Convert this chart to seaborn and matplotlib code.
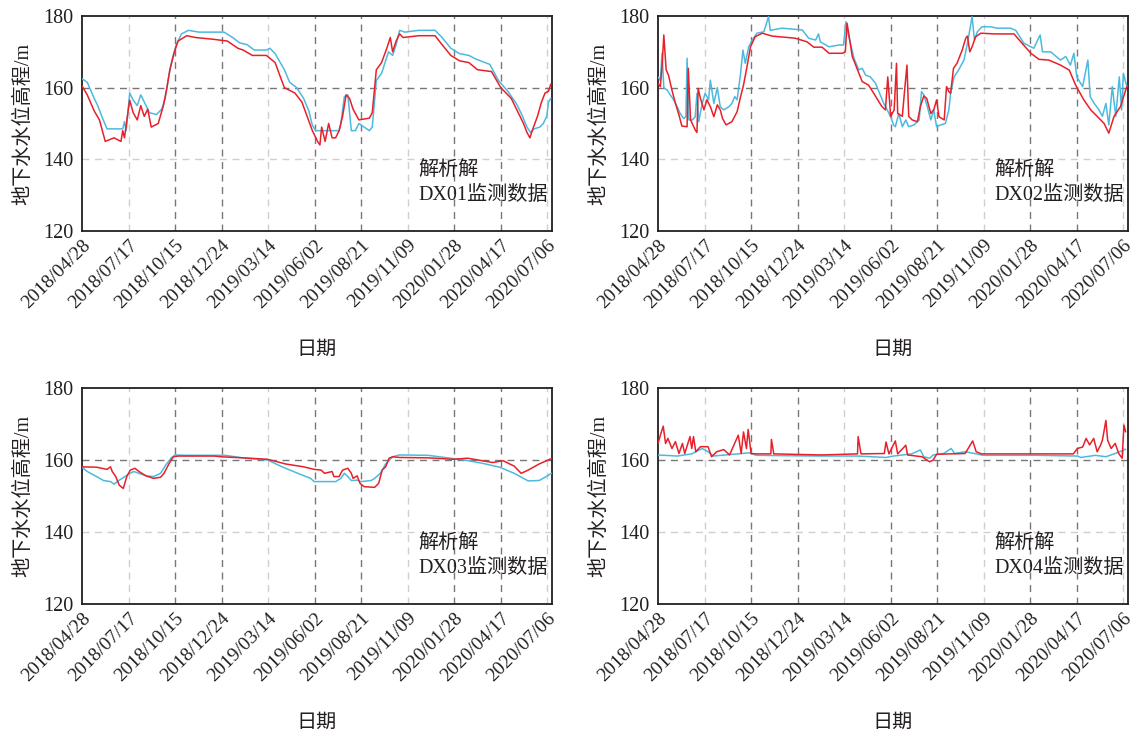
import matplotlib
matplotlib.use("Agg")
import matplotlib.pyplot as plt
import seaborn as sns
import numpy as np

# ---------------- data ----------------
tick_days = [0, 80, 160, 240, 320, 400, 480, 560, 640, 720, 800]
tick_labels = ['2018/04/28', '2018/07/17', '2018/10/15', '2018/12/24', '2019/03/14',
               '2019/06/02', '2019/08/21', '2019/11/09', '2020/01/28', '2020/04/17',
               '2020/07/06']
y_ticks = [120, 140, 160, 180]
well_names = ['DX01', 'DX02', 'DX03', 'DX04']

# DX01
dx01_model_days = [0, 9, 21, 30, 40, 55, 67, 70, 73, 78, 82, 88, 95, 101, 107, 113, 119, 131, 140, 146,
                   151, 159, 165, 180, 195, 226, 250, 268, 277, 293, 317, 332, 341, 348, 366, 378, 387,
                   396, 405, 409, 412, 418, 424, 430, 436, 442, 448, 451, 454, 460, 466, 476, 494, 499,
                   506, 515, 524, 530, 534, 540, 546, 552, 579, 607, 619, 634, 649, 665, 680, 704, 720,
                   738, 750, 759, 765, 770, 774, 783, 790, 796, 802, 806]
dx01_model = [160.5, 158, 153.5, 151, 145, 146, 145, 148, 146, 152, 156.5, 153, 151, 155, 152, 154, 149,
              150, 155, 160, 165, 170, 173, 174.5, 174, 173.5, 173, 171, 170.5, 169, 169, 167, 163, 160,
              158.5, 156, 152, 148, 145, 144, 149, 145, 150, 146, 146, 148, 152, 155, 158, 157, 154,
              151, 151.5, 153, 165, 167, 171, 174, 170, 173, 175, 174, 174.5, 174.5, 172, 169, 167.5,
              167, 165, 164.5, 160, 157, 153, 150, 147.5, 146, 148, 152, 156, 158.5, 159, 161]
dx01_obs_days = [0, 9, 21, 27, 34, 43, 70, 73, 76, 82, 88, 95, 101, 107, 116, 128, 137, 143, 149, 155,
                 162, 171, 183, 201, 244, 259, 271, 284, 296, 317, 323, 332, 348, 357, 369, 381, 390,
                 396, 402, 442, 445, 451, 457, 463, 470, 476, 494, 499, 506, 515, 521, 527, 534, 540,
                 546, 555, 579, 607, 619, 634, 649, 665, 677, 701, 716, 732, 747, 756, 765, 771, 777,
                 787, 793, 799, 802, 806]
dx01_obs = [162.5, 161.5, 157, 155, 152, 148.5, 148.5, 150.5, 148, 158.5, 156.5, 155, 158, 156, 153,
            152.5, 154, 157, 163, 168, 172, 175, 176, 175.5, 175.5, 174, 172.5, 172, 170.5, 170.5, 171,
            169.5, 165, 161.5, 160, 157, 153.5, 149.5, 148, 148, 150, 157.5, 158, 148, 148, 150, 148,
            149, 162, 164, 167, 170, 169, 172, 176, 175.5, 176, 176, 174, 171, 169.5, 169, 168, 166.5,
            162, 159, 155.5, 152.5, 149, 147.5, 148.5, 149, 150, 152, 156, 157]

# DX02
dx02_model_days = [0, 4, 7, 10, 14, 18, 24, 30, 36, 41, 50, 52, 56, 64, 67, 69, 73, 79, 84, 90, 96, 102,
                   107, 111, 117, 127, 136, 142, 147, 153, 159, 167, 179, 196, 236, 256, 268, 282, 294,
                   317, 322, 325, 328, 334, 342, 351, 362, 371, 380, 385, 391, 395, 400, 406, 410, 412,
                   420, 424, 428, 431, 437, 446, 451, 457, 462, 469, 474, 479, 483, 492, 496, 500, 503,
                   508, 514, 523, 529, 532, 536, 540, 546, 555, 578, 612, 621, 641, 655, 672, 692, 707,
                   718, 732, 744, 755, 767, 775, 784, 795, 806]
dx02_model = [161.2, 160.3, 166, 174.7, 165, 163.5, 159.3, 155.6, 152.4, 149.3, 149.1, 165.4, 151, 148.2,
              147.5, 159.8, 157, 153.8, 156.6, 154.7, 151.9, 155.2, 153.8, 151.4, 149.6, 150.5, 153.3,
              157.5, 160.7, 165.9, 171.4, 174.2, 175.2, 174.4, 173.8, 172.8, 171.3, 171.3, 169.6, 169.6,
              170, 178, 175, 168.7, 165.4, 161.7, 160.7, 158.4, 156, 154.7, 153.8, 163, 152, 153.8,
              166.8, 152.8, 152, 159.3, 166.3, 152, 151, 150.5, 154.7, 157.7, 157, 152.8, 153.8, 156.6,
              151.9, 151, 160.3, 158.9, 158.4, 165.4, 166.8, 170.5, 173.8, 174.4, 170, 171.4, 174.2,
              175.2, 175, 175, 173.3, 169.6, 167.9, 167.7, 166.3, 164.9, 160.7, 156.6, 153.8, 152, 150,
              147.3, 152, 154.7, 160.3]
dx02_obs_days = [0, 4, 7, 10, 16, 21, 27, 33, 38, 44, 48, 50, 53, 59, 64, 67, 70, 76, 81, 87, 90, 96,
                 102, 107, 113, 122, 127, 132, 136, 142, 146, 150, 156, 162, 170, 182, 190, 193, 213,
                 248, 259, 271, 276, 279, 294, 311, 319, 323, 328, 337, 345, 351, 357, 365, 374, 382,
                 388, 394, 400, 405, 408, 414, 420, 426, 431, 440, 449, 453, 457, 463, 469, 474, 479,
                 486, 494, 500, 503, 509, 517, 526, 532, 536, 540, 544, 549, 557, 572, 583, 606, 615,
                 629, 646, 657, 661, 675, 692, 701, 709, 715, 720, 730, 739, 743, 750, 758, 764, 770,
                 775, 781, 787, 793, 797, 800, 806]
dx02_obs = [163, 162, 169.6, 160, 159.3, 158, 156.6, 154.7, 152.8, 151.4, 151.9, 168.2, 151, 151, 151.9,
            158.4, 150.5, 155.6, 158.4, 156.6, 162.1, 155.6, 160, 154.7, 153.8, 154.7, 155.6, 157.5,
            156.6, 164, 170.5, 166.8, 171.4, 173.3, 175.2, 175.6, 179.8, 176, 176.6, 176.1, 173.8,
            173.3, 175, 172.8, 171.4, 171.9, 171.9, 178.4, 174.2, 168.2, 165, 165.4, 163.5, 163,
            161.2, 158, 155.6, 153.8, 151.9, 149.6, 149.1, 152.8, 149.1, 151, 149.1, 149.6, 151,
            158.9, 158, 154.7, 151, 153.8, 149.1, 149.6, 150, 153.8, 158.4, 163, 165, 167.7, 172.4,
            176.1, 179.8, 173.3, 175.6, 177, 177, 176.6, 176.6, 176, 172.4, 171, 174.7, 170, 170,
            167.7, 168.7, 166.3, 169.6, 163, 160.3, 167.7, 157.5, 155.6, 153.8, 152, 155.6, 149.6,
            160.3, 152, 163, 153.8, 164, 160.3]

# DX03
dx03_model_days = [0, 25, 43, 49, 52, 58, 64, 71, 77, 83, 91, 98, 110, 123, 135, 141, 150, 157, 166,
                   227, 239, 276, 319, 350, 381, 399, 411, 417, 430, 433, 442, 448, 457, 463, 466, 473,
                   478, 485, 503, 510, 516, 522, 528, 534, 546, 595, 638, 663, 688, 706, 724, 743, 755,
                   767, 786, 807]
dx03_model = [158.1, 158, 157.4, 158.1, 156.8, 155.4, 153, 152.1, 155.4, 157.2, 157.7, 156.8, 155.6,
              154.9, 155.2, 156.3, 159.1, 160.9, 161.1, 161.1, 160.9, 160.6, 160.2, 158.9, 158.1, 157.4,
              157.2, 156.3, 156.8, 155.4, 155.4, 157.2, 157.7, 156.3, 154.9, 155.6, 153.5, 152.6, 152.4,
              153.5, 157.2, 158.1, 160.5, 160.9, 160.7, 160.6, 160.2, 160.5, 159.8, 159.3, 159.8, 158.3,
              156.3, 157.2, 158.9, 160.4]
dx03_obs_days = [0, 9, 25, 37, 49, 55, 64, 74, 80, 89, 98, 110, 123, 135, 144, 153, 160, 178, 246,
                 276, 319, 344, 368, 393, 399, 436, 445, 451, 457, 463, 473, 479, 497, 503, 513, 522,
                 534, 546, 595, 614, 657, 688, 718, 743, 767, 786, 798, 807]
dx03_obs = [158, 156.8, 155.4, 154.3, 154, 153.3, 154.4, 155.4, 156.1, 156.8, 156.3, 155.6, 155.4,
            156.3, 158.6, 160.5, 161.4, 161.3, 161.3, 160.6, 160, 158.1, 156.5, 154.9, 154, 154,
            154.9, 156.3, 155.4, 154.3, 154.4, 154, 154.3, 154.9, 156.3, 158.9, 160.9, 161.4, 161.3,
            160.9, 160, 159.1, 158, 156.3, 154.2, 154.3, 155.4, 156.3]

# DX04
dx04_model_days = [0, 5, 9, 13, 17, 24, 30, 36, 42, 46, 55, 58, 61, 65, 73, 86, 92, 101, 113, 123, 138,
                   143, 147, 152, 155, 160, 169, 194, 195, 199, 281, 343, 344, 349, 389, 392, 397, 408,
                   412, 426, 429, 454, 467, 473, 479, 528, 541, 547, 556, 652, 714, 721, 730, 736, 742,
                   749, 755, 761, 764, 770, 773, 779, 786, 792, 798, 801, 804]
dx04_model = [164.6, 167.4, 169.4, 164.6, 166, 163.2, 165.1, 161.8, 164.6, 161.8, 166.5, 163.2, 166.5,
              162.3, 163.7, 163.7, 160.9, 162.3, 162.9, 161.4, 166.9, 161.8, 167.8, 163.2, 168.5, 161.8,
              161.7, 161.7, 165.7, 161.7, 161.4, 161.7, 166.5, 161.7, 161.8, 165, 161.7, 165.3, 161.7,
              164.1, 161.4, 160.9, 159.5, 160, 161.6, 161.8, 165.3, 162.3, 161.7, 161.7, 161.7, 163.2,
              163.6, 166, 164.2, 166, 162.3, 164.2, 165.5, 171, 165.5, 163.2, 164.6, 161.8, 160.5,
              169.7, 167.8]
dx04_obs_days = [0, 33, 58, 76, 86, 95, 144, 157, 169, 219, 281, 343, 392, 405, 436, 451, 457, 467, 473,
                 491, 504, 510, 528, 544, 559, 652, 721, 727, 752, 770, 789, 804]
dx04_obs = [161.4, 161.1, 161.7, 163.2, 162.3, 161.1, 161.8, 162, 161.3, 161.2, 161.1, 161.1, 160.7,
            161.1, 161.7, 162.8, 160.9, 160.5, 161.4, 161.8, 163.2, 161.8, 162.3, 161.8, 161.3, 161.3,
            161.1, 160.7, 161.3, 160.9, 162, 163]

model_days = [dx01_model_days, dx02_model_days, dx03_model_days, dx04_model_days]
model_vals = [dx01_model, dx02_model, dx03_model, dx04_model]
obs_days = [dx01_obs_days, dx02_obs_days, dx03_obs_days, dx04_obs_days]
obs_vals = [dx01_obs, dx02_obs, dx03_obs, dx04_obs]

# ---------------- style ----------------
sns.set_theme(style="white")
plt.rcParams['font.family'] = ['Liberation Serif', 'Noto Sans CJK SC']
plt.rcParams['axes.unicode_minus'] = False

RED = '#e8202a'
CYAN = '#4cbade'
TXT = '#231f20'
LIGHT = '#cfcfcf'
DARK = '#777777'
FS = 14.5

fig = plt.figure(figsize=(11.35, 7.33), dpi=100)
W, H = 1135, 733
boxes = [(82, 16, 552, 231), (658, 16, 1128, 231),
         (82, 388, 552, 604), (658, 388, 1128, 604)]
vgrid_colors = [None, LIGHT, DARK, DARK, LIGHT, DARK, DARK, LIGHT, DARK, DARK, LIGHT]
hgrid_colors = [None, LIGHT, DARK, None]

for i, (l, t, r, b) in enumerate(boxes):
    ax = fig.add_axes([l / W, 1 - b / H, (r - l) / W, (b - t) / H])
    sns.lineplot(x=model_days[i], y=model_vals[i], ax=ax, color=RED, lw=1.1,
                 label='解析解', zorder=4, sort=False, estimator=None)
    sns.lineplot(x=obs_days[i], y=obs_vals[i], ax=ax, color=CYAN, lw=1.1,
                 label=f'{well_names[i]}监测数据', zorder=3, sort=False, estimator=None)
    ax.set_xlim(0, 808)
    ax.set_ylim(120, 180)
    ax.set_xticks(tick_days)
    ax.set_xticklabels(tick_labels, rotation=45, ha='right', rotation_mode='anchor',
                       fontsize=14, color=TXT)
    ax.set_yticks(y_ticks)
    ax.set_yticklabels([str(v) for v in y_ticks], fontsize=14.5, color=TXT)
    ax.tick_params(axis='x', length=0, pad=4)
    ax.tick_params(axis='y', length=0, pad=6)
    ax.grid(True, linestyle=(0, (5, 4)), linewidth=1.0)
    for gl, c in zip(ax.xaxis.get_gridlines(), vgrid_colors):
        if c is None:
            gl.set_visible(False)
        else:
            gl.set_color(c)
    for gl, c in zip(ax.yaxis.get_gridlines(), hgrid_colors):
        if c is None:
            gl.set_visible(False)
        else:
            gl.set_color(c)
    for s in ax.spines.values():
        s.set_visible(True)
        s.set_color(TXT)
        s.set_linewidth(1.3)
    ax.set_xlabel('日期', fontsize=FS, color=TXT, labelpad=21)
    ax.set_ylabel('地下水水位高程/m', fontsize=FS, color=TXT, labelpad=7)
    leg = ax.legend(loc='lower right', bbox_to_anchor=(1.0, 0.1), frameon=False,
                    handlelength=0, handletextpad=0, borderaxespad=0, borderpad=0.2,
                    labelspacing=0.3, prop={'size': FS})
    for txt in leg.get_texts():
        txt.set_color(TXT)

fig.savefig('out.png', dpi=100, facecolor='white')
